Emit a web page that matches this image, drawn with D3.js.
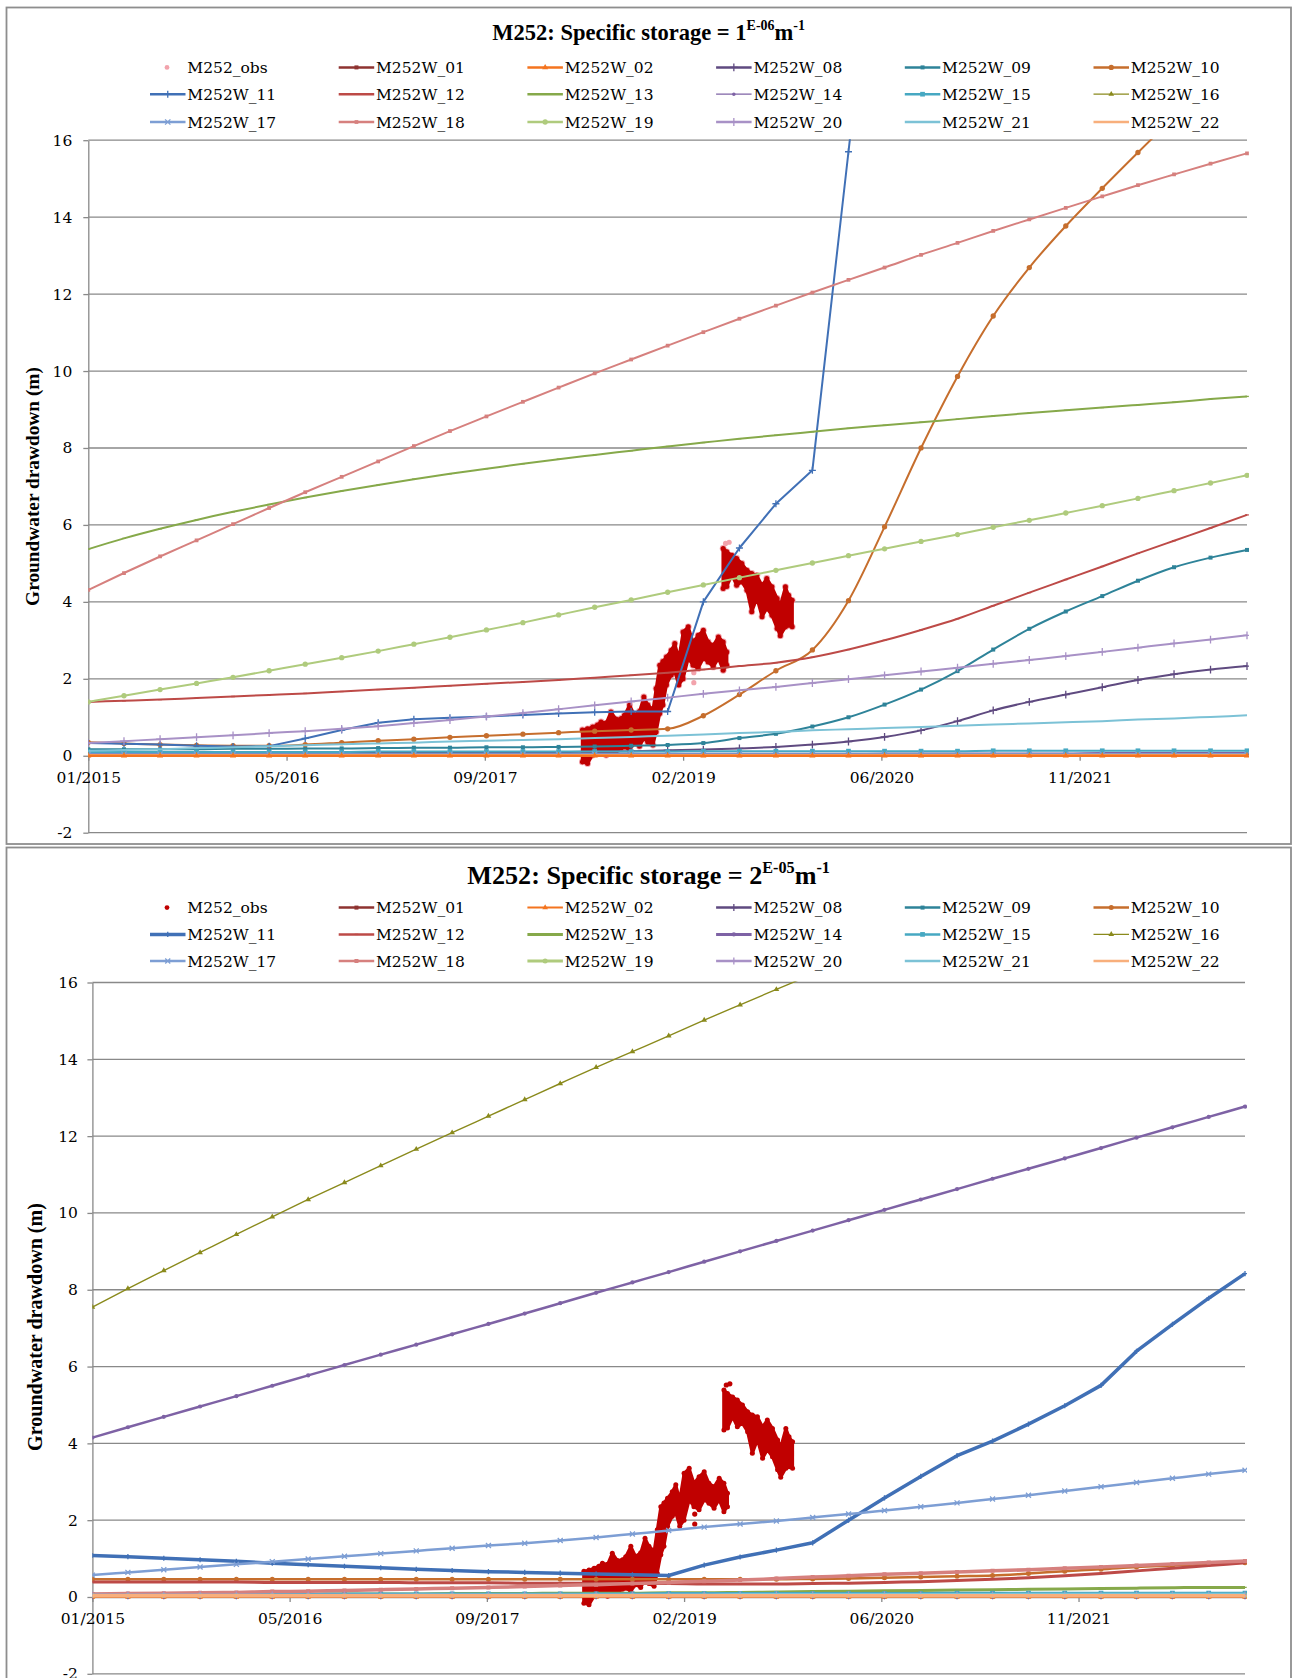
<!DOCTYPE html>
<html><head><meta charset="utf-8">
<script src="https://cdn.jsdelivr.net/npm/d3@7"></script>
<style>body{margin:0;background:#fff}</style>
</head><body>
<svg id="c" width="1292" height="1678"></svg>
<script>
// ---------------- DATA ----------------
const months = ["2015-01","2015-04","2015-07","2015-10","2016-01","2016-04","2016-07","2016-10",
"2017-01","2017-04","2017-07","2017-10","2018-01","2018-04","2018-07","2018-10",
"2019-01","2019-04","2019-07","2019-10","2020-01","2020-04","2020-07","2020-10",
"2021-01","2021-04","2021-07","2021-10","2022-01","2022-04","2022-07","2022-10","2023-01"];
const xDomainDates = ["2015-01-01","2023-01-01"];
const xTickDates = ["2015-01-01","2016-05-15","2017-09-27","2019-02-09","2020-06-23","2021-11-05"];
const yTicks = [-2,0,2,4,6,8,10,12,14,16];
const seriesNames = ["M252W_01","M252W_02","M252W_08","M252W_09","M252W_10","M252W_11","M252W_12","M252W_13","M252W_14","M252W_15","M252W_16","M252W_17","M252W_18","M252W_19","M252W_20","M252W_21","M252W_22"];
const obsName = "M252_obs";

// Panel 1 : Ss = 1E-06
const p1_W01 = [0.03,0.03,0.03,0.03,0.03,0.03,0.03,0.03,0.03,0.03,0.03,0.03,0.03,0.03,0.03,0.03,0.03,0.03,0.03,0.03,0.03,0.03,0.03,0.03,0.03,0.03,0.03,0.03,0.03,0.03,0.03,0.03,0.03];
const p1_W02 = [0,0,0,0,0,0,0,0,0,0,0,0,0,0,0,0,0,0,0,0,0,0,0,0,0,0,0,0,0,0,0,0,0];
const p1_W08 = [0.07,0.07,0.07,0.07,0.07,0.07,0.07,0.08,0.08,0.08,0.09,0.09,0.10,0.10,0.11,0.12,0.14,0.16,0.19,0.23,0.29,0.37,0.49,0.66,0.90,1.18,1.40,1.59,1.78,1.97,2.12,2.24,2.33];
const p1_W09 = [0.17,0.17,0.17,0.17,0.18,0.18,0.19,0.19,0.20,0.21,0.21,0.22,0.22,0.23,0.24,0.26,0.28,0.33,0.46,0.57,0.76,1.00,1.33,1.72,2.20,2.76,3.30,3.75,4.15,4.55,4.90,5.15,5.35];
const p1_W10 = [0.35,0.32,0.29,0.27,0.26,0.26,0.29,0.34,0.39,0.43,0.48,0.52,0.56,0.60,0.64,0.67,0.70,1.04,1.59,2.21,2.75,4.03,5.95,8.00,9.86,11.43,12.69,13.77,14.75,15.68,16.6,17.5,18.3];
const p1_W11 = [0.33,0.31,0.29,0.26,0.24,0.25,0.45,0.67,0.86,0.95,0.99,1.02,1.06,1.10,1.13,1.15,1.15,4.00,5.40,6.55,7.42,15.70,24.0,null,null,null,null,null,null,null,null,null,null];
const p1_W12 = [1.40,1.43,1.46,1.50,1.54,1.58,1.62,1.67,1.72,1.77,1.82,1.87,1.92,1.97,2.03,2.09,2.16,2.24,2.33,2.42,2.56,2.76,3.00,3.27,3.56,3.90,4.24,4.58,4.92,5.26,5.59,5.92,6.26];
const p1_W13 = [5.37,5.65,5.90,6.13,6.34,6.53,6.71,6.88,7.04,7.19,7.33,7.46,7.59,7.71,7.82,7.93,8.04,8.14,8.24,8.33,8.42,8.51,8.59,8.67,8.75,8.83,8.91,8.98,9.05,9.12,9.19,9.27,9.34];
const p1_W14 = [0.05,0.05,0.05,0.05,0.05,0.05,0.05,0.05,0.05,0.05,0.05,0.06,0.06,0.06,0.06,0.06,0.06,0.06,0.06,0.06,0.06,0.06,0.07,0.07,0.07,0.07,0.07,0.07,0.08,0.08,0.08,0.08,0.08];
const p1_W15 = [0.10,0.10,0.10,0.10,0.10,0.10,0.10,0.10,0.11,0.11,0.11,0.11,0.11,0.11,0.11,0.11,0.11,0.12,0.12,0.12,0.12,0.12,0.12,0.12,0.12,0.13,0.13,0.13,0.13,0.13,0.13,0.13,0.13];
const p1_W16 = [0.01,0.01,0.01,0.01,0.01,0.01,0.01,0.01,0.01,0.01,0.01,0.01,0.01,0.01,0.01,0.01,0.01,0.01,0.01,0.01,0.01,0.01,0.01,0.01,0.01,0.01,0.01,0.01,0.01,0.01,0.01,0.01,0.01];
const p1_W17 = [0.04,0.04,0.04,0.04,0.04,0.04,0.04,0.04,0.04,0.04,0.04,0.04,0.04,0.04,0.04,0.04,0.04,0.04,0.04,0.04,0.04,0.04,0.04,0.04,0.04,0.04,0.04,0.04,0.04,0.04,0.04,0.04,0.04];
const p1_W18 = [4.31,4.75,5.18,5.60,6.02,6.44,6.85,7.25,7.65,8.05,8.44,8.82,9.20,9.57,9.94,10.30,10.66,11.01,11.36,11.70,12.04,12.37,12.69,13.02,13.33,13.64,13.94,14.24,14.54,14.83,15.11,15.39,15.66];
const p1_W19 = [1.40,1.56,1.72,1.88,2.04,2.21,2.38,2.55,2.72,2.90,3.08,3.27,3.46,3.66,3.86,4.05,4.25,4.44,4.63,4.82,5.01,5.20,5.38,5.57,5.75,5.94,6.12,6.31,6.50,6.69,6.89,7.09,7.29];
const p1_W20 = [0.33,0.38,0.43,0.48,0.53,0.59,0.64,0.70,0.77,0.85,0.93,1.02,1.11,1.21,1.31,1.41,1.51,1.61,1.70,1.79,1.89,1.99,2.09,2.19,2.29,2.39,2.49,2.59,2.70,2.81,2.92,3.02,3.13];
const p1_W21 = [0.13,0.15,0.17,0.20,0.22,0.25,0.27,0.30,0.32,0.34,0.37,0.39,0.41,0.43,0.46,0.49,0.52,0.55,0.59,0.62,0.66,0.69,0.72,0.75,0.78,0.81,0.84,0.87,0.90,0.94,0.97,1.01,1.05];
const p1_W22 = [0.01,0.01,0.01,0.01,0.01,0.01,0.01,0.01,0.01,0.01,0.01,0.01,0.01,0.01,0.01,0.01,0.01,0.01,0.01,0.01,0.01,0.01,0.01,0.01,0.01,0.01,0.01,0.01,0.01,0.01,0.01,0.01,0.01];

// Panel 2 : Ss = 2E-05
const p2_W01 = [0.02,0.02,0.02,0.02,0.02,0.02,0.02,0.02,0.02,0.02,0.02,0.02,0.02,0.02,0.02,0.02,0.02,0.02,0.02,0.02,0.02,0.02,0.02,0.02,0.02,0.02,0.02,0.02,0.02,0.02,0.02,0.02,0.02];
const p2_W02 = [0,0,0,0,0,0,0,0,0,0,0,0,0,0,0,0,0,0,0,0,0,0,0,0,0,0,0,0,0,0,0,0,0];
const p2_W08 = [0.03,0.03,0.03,0.03,0.03,0.03,0.03,0.03,0.03,0.03,0.03,0.03,0.03,0.03,0.03,0.03,0.03,0.03,0.03,0.03,0.03,0.03,0.03,0.03,0.03,0.03,0.03,0.03,0.03,0.03,0.03,0.03,0.03];
const p2_W09 = [0.07,0.07,0.07,0.07,0.07,0.07,0.07,0.07,0.07,0.07,0.07,0.08,0.08,0.08,0.08,0.08,0.08,0.08,0.08,0.08,0.08,0.08,0.09,0.09,0.09,0.09,0.09,0.09,0.09,0.09,0.09,0.09,0.09];
const p2_W10 = [0.46,0.46,0.46,0.46,0.46,0.46,0.46,0.46,0.46,0.46,0.46,0.46,0.46,0.46,0.46,0.46,0.46,0.46,0.46,0.46,0.47,0.48,0.50,0.52,0.54,0.56,0.61,0.67,0.72,0.78,0.82,0.86,0.89];
const p2_W11 = [1.08,1.05,1.01,0.97,0.93,0.88,0.84,0.80,0.76,0.72,0.69,0.66,0.64,0.62,0.60,0.58,0.56,0.83,1.04,1.22,1.41,2.00,2.58,3.14,3.68,4.06,4.50,4.98,5.51,6.40,7.10,7.78,8.42];
const p2_W12 = [0.39,0.39,0.39,0.39,0.39,0.38,0.38,0.38,0.38,0.37,0.37,0.37,0.36,0.36,0.36,0.35,0.35,0.34,0.34,0.34,0.35,0.36,0.38,0.40,0.43,0.46,0.50,0.55,0.61,0.68,0.75,0.82,0.89];
const p2_W13 = [0.06,0.06,0.06,0.07,0.07,0.07,0.07,0.08,0.08,0.08,0.09,0.09,0.09,0.10,0.10,0.10,0.11,0.11,0.12,0.13,0.14,0.15,0.16,0.17,0.18,0.19,0.20,0.21,0.22,0.23,0.24,0.25,0.25];
const p2_W14 = [4.15,4.42,4.69,4.96,5.23,5.50,5.77,6.04,6.31,6.57,6.84,7.11,7.38,7.65,7.92,8.19,8.46,8.73,9.00,9.27,9.54,9.81,10.08,10.35,10.62,10.89,11.15,11.42,11.69,11.96,12.23,12.50,12.77];
const p2_W15 = [0.07,0.07,0.07,0.07,0.07,0.07,0.07,0.08,0.08,0.08,0.08,0.08,0.08,0.08,0.08,0.08,0.09,0.09,0.09,0.09,0.09,0.09,0.09,0.09,0.10,0.10,0.10,0.10,0.10,0.10,0.10,0.10,0.10];
const p2_W16 = [7.55,8.03,8.50,8.97,9.44,9.90,10.35,10.79,11.23,11.66,12.09,12.52,12.95,13.37,13.79,14.20,14.61,15.02,15.42,15.82,16.22,16.6,17.0,17.4,17.8,18.2,18.6,18.95,19.3,19.65,20.0,20.35,20.7];
const p2_W17 = [0.57,0.64,0.71,0.78,0.85,0.92,0.99,1.06,1.13,1.20,1.27,1.34,1.40,1.47,1.55,1.64,1.73,1.82,1.90,1.98,2.07,2.16,2.25,2.35,2.45,2.55,2.65,2.76,2.87,2.98,3.09,3.20,3.30];
const p2_W18 = [0.08,0.09,0.10,0.11,0.12,0.14,0.15,0.17,0.19,0.21,0.23,0.25,0.27,0.30,0.32,0.35,0.38,0.41,0.44,0.48,0.52,0.55,0.59,0.62,0.65,0.68,0.71,0.75,0.78,0.82,0.86,0.90,0.94];
const p2_W19 = [0.04,0.04,0.04,0.04,0.04,0.04,0.04,0.04,0.04,0.04,0.04,0.04,0.04,0.04,0.04,0.04,0.04,0.04,0.04,0.04,0.04,0.04,0.04,0.04,0.04,0.04,0.04,0.04,0.04,0.04,0.04,0.04,0.04];
const p2_W20 = [0.05,0.05,0.05,0.05,0.05,0.05,0.05,0.05,0.05,0.05,0.05,0.05,0.05,0.05,0.05,0.05,0.05,0.05,0.05,0.05,0.05,0.05,0.05,0.05,0.05,0.05,0.05,0.05,0.05,0.05,0.05,0.05,0.05];
const p2_W21 = [0.05,0.05,0.05,0.05,0.05,0.05,0.05,0.05,0.05,0.06,0.06,0.06,0.06,0.06,0.06,0.06,0.06,0.06,0.07,0.07,0.07,0.07,0.07,0.07,0.07,0.07,0.08,0.08,0.08,0.08,0.08,0.08,0.08];
const p2_W22 = [0.03,0.03,0.03,0.03,0.03,0.03,0.03,0.03,0.03,0.03,0.03,0.03,0.03,0.03,0.03,0.03,0.03,0.03,0.03,0.03,0.03,0.03,0.03,0.03,0.03,0.03,0.03,0.03,0.03,0.03,0.03,0.03,0.03];

// Observations (days since 01/01/2015), envelope of the dense record
const obsDayA = [1246,1259,1272,1284,1293,1306,1318,1331,1344,1352,1365,1377,1390,1401,1411,1424,1432,1441,1449,1458,1470,1479,1489,1500,1513,1525,1538,1551,1563,1576,1589,1601,1610];
const obsLoA  = [-0.16,-0.20,0.02,0.05,0.08,0.02,0.10,0.12,0.20,0.23,0.15,0.32,0.25,0.45,0.35,0.28,0.62,1.10,1.32,1.84,2.10,2.18,1.84,2.00,2.53,2.35,2.27,2.53,2.44,2.31,2.53,2.22,2.35];
const obsHiA  = [0.67,0.70,0.75,0.80,0.88,0.85,1.14,0.95,0.97,1.05,1.32,1.06,1.15,1.53,1.32,1.20,1.75,2.35,2.45,2.57,2.74,2.92,2.53,3.22,3.35,2.96,3.13,3.26,2.96,2.87,3.09,2.96,2.70];
const obsDayB = [1601,1610,1623,1635,1648,1661,1673,1686,1699,1711,1724,1737,1745,1758,1766,1775];
const obsLoB  = [4.35,4.40,4.69,4.43,4.52,4.30,3.74,4.09,3.61,3.83,3.65,3.31,3.12,3.35,3.39,3.35];
const obsHiB  = [5.39,5.30,5.21,5.13,5.00,4.82,4.74,4.69,4.43,4.61,4.39,4.09,3.91,4.39,4.17,4.04];
const obsOutDay = [1527,1527,1607,1616];
const obsOutVal = [2.16,1.90,5.52,5.55];

// ---------------- STYLE ----------------
const colors = ["#8E3331","#F4741F","#5F4A80","#2E8399","#C66E2D","#4070B6","#BD4A47","#86A94A","#7E62A5","#46A8C2","#8A8A1C","#7D9ED4","#D6807E","#AFCB7D","#A891C6","#7CC2D6","#F8AF7C"];
const markers = ["square","triangle","plus","square","circle","plus","dash","dash","circle","square","triangle","times","square","circle","plus","none","dash"];
const p1Widths = [2,2.5,2,2,2,2,2,2,1.2,2,1.2,2,2,2,2,2,2.5];
const p2Widths = [2.5,1.5,2.5,2.5,2.5,3.5,3,3,2.5,3,1.4,2.5,3.5,3,2.5,2.5,3.5];
const linearSeries = ["M252W_11"];
const FONT = "'DejaVu Serif', serif";
const TFONT = "'Liberation Serif', 'Times New Roman', serif";

const parseM = d3.timeParse("%Y-%m");
const parseD = d3.timeParse("%Y-%m-%d");
const base = parseD("2015-01-01");
const svg = d3.select("#c");

function markerPath(type, size){
  if(type==="square") return d3.symbol(d3.symbolSquare, size)();
  if(type==="triangle") return d3.symbol(d3.symbolTriangle, size)();
  if(type==="circle") return d3.symbol(d3.symbolCircle, size)();
  if(type==="plus") return d3.symbol(d3.symbolPlus, size)();
  if(type==="times") return d3.symbol(d3.symbolTimes, size)();
  if(type==="dash") { const h=Math.sqrt(size)/2; return `M${-h},0H${h}`; }
  return null;
}
const strokeMarkers = new Set(["plus","times","dash"]);

function drawPanel(P){
  const g = svg.append("g");
  g.append("rect").attr("x",P.frame[0]).attr("y",P.frame[1]).attr("width",P.frame[2]).attr("height",P.frame[3])
    .attr("fill","#fff").attr("stroke","#8e8e8e").attr("stroke-width",1.8);

  const x = d3.scaleTime().domain(xDomainDates.map(parseD)).range([P.left,P.right]);
  const y = d3.scaleLinear().domain([-2,16]).range([P.bottom,P.top]);

  g.append("g").selectAll("line").data(yTicks).join("line")
    .attr("x1",P.left).attr("x2",P.right).attr("y1",d=>y(d)).attr("y2",d=>y(d))
    .attr("stroke","#898989").attr("stroke-width",1.3);

  const ya = g.append("g").attr("transform",`translate(${P.left},0)`)
    .call(d3.axisLeft(y).tickValues(yTicks).tickSize(5).tickSizeOuter(0).tickPadding(P.yPad).tickFormat(d=>String(d)));
  ya.select(".domain").attr("stroke","#898989").attr("stroke-width",1.3);
  ya.selectAll(".tick line").attr("stroke","#898989").attr("stroke-width",1.3);
  ya.selectAll("text").attr("font-family",FONT).attr("font-size",15.5).attr("fill","#000");

  const xa = g.append("g").attr("transform",`translate(0,${y(0)})`)
    .call(d3.axisBottom(x).tickValues(xTickDates.map(parseD)).tickSize(5).tickSizeOuter(0).tickPadding(11).tickFormat(d3.timeFormat("%m/%Y")));
  xa.select(".domain").attr("stroke","#898989").attr("stroke-width",1.3);
  xa.selectAll(".tick line").attr("stroke","#898989").attr("stroke-width",1.3);
  xa.selectAll("text").attr("font-family",FONT).attr("font-size",15.5).attr("fill","#000");

  const cid = "clip"+P.id;
  g.append("clipPath").attr("id",cid).append("rect")
    .attr("x",P.left).attr("y",P.top-1).attr("width",P.right-P.left+2).attr("height",P.bottom-P.top+1);
  const plot = g.append("g").attr("clip-path",`url(#${cid})`);

  // observations
  const obsSets = [[obsDayA,obsLoA,obsHiA],[obsDayB,obsLoB,obsHiB]];
  const obsG = plot.append("g");
  obsSets.forEach(([dd,lo,hi])=>{
    const pts = dd.map((d,i)=>({t:d3.timeDay.offset(base,d), lo:lo[i], hi:hi[i]}));
    const ends = pts.flatMap(p=>[{t:p.t,v:p.lo},{t:p.t,v:p.hi}]);
    if(P.obsUnder){
      obsG.append("g").selectAll("circle").data(ends).join("circle")
        .attr("cx",d=>x(d.t)).attr("cy",d=>y(d.v)).attr("r",3.4).attr("fill",P.obsUnder);
    }
    obsG.append("path").datum(pts)
      .attr("d",d3.area().x(d=>x(d.t)).y0(d=>y(d.lo)).y1(d=>y(d.hi)))
      .attr("fill",P.obsColor).attr("stroke",P.obsColor).attr("stroke-width",3).attr("stroke-linejoin","round");
    obsG.append("path").datum(pts.flatMap(p=>[{t:p.t,v:p.hi},{t:p.t,v:p.lo}]))
      .attr("d",d3.line().x(d=>x(d.t)).y(d=>y(d.v)))
      .attr("fill","none").attr("stroke",P.obsColor).attr("stroke-width",3);
    obsG.append("g").selectAll("circle").data(ends).join("circle")
      .attr("cx",d=>x(d.t)).attr("cy",d=>y(d.v)).attr("r",2.5).attr("fill",P.obsColor);
  });
  obsG.append("g").selectAll("circle").data(obsOutDay.map((d,i)=>({t:d3.timeDay.offset(base,d),v:obsOutVal[i]}))).join("circle")
    .attr("cx",d=>x(d.t)).attr("cy",d=>y(d.v)).attr("r",2.6).attr("fill",P.obsOutColor);

  // model series
  const order = P.order || seriesNames.map((_,i)=>i);
  order.forEach(i=>{
    const name = seriesNames[i];
    const vals = P.data[i];
    const pts = months.map((m,k)=>({t:parseM(m), v:vals[k]}));
    const curve = linearSeries.includes(name) ? d3.curveLinear : d3.curveMonotoneX;
    plot.append("path").datum(pts)
      .attr("d",d3.line().defined(d=>d.v!=null).x(d=>x(d.t)).y(d=>y(d.v)).curve(curve))
      .attr("fill","none").attr("stroke",colors[i]).attr("stroke-width",P.widths[i]).attr("stroke-linejoin","round");
    const mk = P.markers[i];
    if(mk!=="none"){
      const path = markerPath(mk, P.mSize[i]);
      const isStroke = strokeMarkers.has(mk);
      plot.append("g").selectAll("path").data(pts.filter(d=>d.v!=null)).join("path")
        .attr("transform",d=>`translate(${x(d.t)},${y(d.v)})`).attr("d",path)
        .attr("fill",isStroke?"none":colors[i]).attr("stroke",isStroke?colors[i]:"none").attr("stroke-width",1.3);
    }
  });

  // title
  const t = g.append("text").attr("x",P.titleX).attr("text-anchor","middle")
    .attr("font-family",TFONT).attr("font-weight","bold").attr("font-size",22).attr("fill","#000");
  t.append("tspan").text("M252: Specific storage = "+P.lead);
  t.append("tspan").attr("font-size","0.62em").attr("dy","-0.72em").text(P.exp);
  t.append("tspan").attr("dy","0.45em").text("m");
  t.append("tspan").attr("font-size","0.62em").attr("dy","-0.72em").text("-1");
  const bw = t.node().getBBox().width;
  const tfs = 22*P.titleW/bw;
  t.attr("font-size",tfs).attr("y",P.titleY+0.34*tfs);

  // y title
  const yt = g.append("text").attr("transform",`translate(${P.ytX},${P.ytY}) rotate(-90)`)
    .attr("text-anchor","middle").attr("font-family",TFONT).attr("font-weight","bold").attr("font-size",18)
    .attr("fill","#000").text("Groundwater drawdown (m)");
  const yw = yt.node().getBBox().width;
  const yfs = 18*P.ytW/yw;
  yt.attr("font-size",yfs).attr("dy",0.34*yfs);

  // legend
  const items = [obsName].concat(seriesNames);
  items.forEach((nm,k)=>{
    const row = Math.floor(k/6), col = k%6;
    const cy = P.legRows[row];
    const lx = 150 + col*188.7;
    const lg = g.append("g");
    if(k===0){
      lg.append("circle").attr("cx",lx+17).attr("cy",cy).attr("r",2.4).attr("fill",P.obsLegend);
    } else {
      const i = k-1;
      lg.append("line").attr("x1",lx).attr("x2",lx+35.5).attr("y1",cy).attr("y2",cy)
        .attr("stroke",colors[i]).attr("stroke-width",P.legWidths[i]);
      const mk = P.markers[i];
      if(mk!=="none"){
        const isStroke = strokeMarkers.has(mk);
        lg.append("path").attr("transform",`translate(${lx+17.75},${cy})`).attr("d",markerPath(mk,P.mSize[i]))
          .attr("fill",isStroke?"none":colors[i]).attr("stroke",isStroke?colors[i]:"none").attr("stroke-width",1.3);
      }
    }
    lg.append("text").attr("x",lx+37.3).attr("y",cy).attr("dy","0.36em")
      .attr("font-family",FONT).attr("font-size",15.5).attr("fill","#000").text(nm);
  });
}

drawPanel({
  id:1, frame:[6.5,7.5,1284.5,836.5], left:88.3, right:1247, top:140.2, bottom:832.7, yPad:11,
  data:[p1_W01,p1_W02,p1_W08,p1_W09,p1_W10,p1_W11,p1_W12,p1_W13,p1_W14,p1_W15,p1_W16,p1_W17,p1_W18,p1_W19,p1_W20,p1_W21,p1_W22],
  widths:p1Widths, legWidths:[2.5,2.5,2.5,2.5,2.5,2.5,2.5,2.5,1.2,2.5,1.2,2.5,2.5,2.5,2.5,2.5,2.5],
  markers:markers, mSize:[16,16,22,16,22,18,14,14,10,22,14,20,14,22,22,0,14],
  order:[0,2,3,4,5,6,7,8,9,10,11,12,13,14,15,16,1],
  obsColor:"#C00000", obsUnder:"#F2A3AC", obsOutColor:"#F2A3AC", obsLegend:"#F2A3AC",
  titleX:648.6, titleY:32, titleW:313, lead:"1", exp:"E-06",
  ytX:32, ytY:486.5, ytW:239,
  legRows:[67.4,94.2,122]
});
drawPanel({
  id:2, frame:[6.5,847.5,1284.5,900], left:92.4, right:1245, top:982.5, bottom:1673.8, yPad:9.5,
  data:[p2_W01,p2_W02,p2_W08,p2_W09,p2_W10,p2_W11,p2_W12,p2_W13,p2_W14,p2_W15,p2_W16,p2_W17,p2_W18,p2_W19,p2_W20,p2_W21,p2_W22],
  widths:p2Widths, legWidths:[2.5,2,2.5,2.5,2.5,3.5,2.5,3,3,2.5,1.4,2.5,2.5,3,2.5,2.5,2.5],
  markers:markers, mSize:[16,14,18,16,20,10,12,12,14,22,14,18,16,20,18,0,12],
  obsColor:"#C00000", obsUnder:null, obsOutColor:"#C00000", obsLegend:"#C00000",
  titleX:648.6, titleY:875.5, titleW:363, lead:"2", exp:"E-05",
  ytX:35, ytY:1327, ytW:248,
  legRows:[907.6,934.4,961]
});
</script>
</body></html>
